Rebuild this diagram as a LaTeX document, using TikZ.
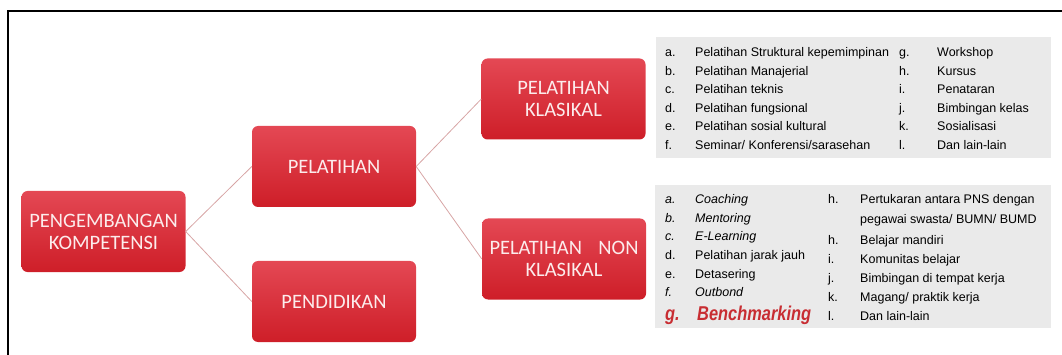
\documentclass[tikz,border=0pt]{standalone}
\usepackage{fontspec}
\setmainfont{Liberation Sans}
\newfontfamily\boxfont{Carlito}
\definecolor{redtop}{RGB}{228,72,84}
\definecolor{redbot}{RGB}{206,30,40}
\definecolor{linkc}{RGB}{215,165,165}
\definecolor{panel}{RGB}{234,234,234}
\definecolor{bench}{RGB}{200,45,50}
\definecolor{boxtext}{RGB}{252,236,236}

\begin{document}
\begin{tikzpicture}[x=1pt,y=-1pt,
  redbox/.style={rounded corners=6pt, top color=redtop, bottom color=redbot,
    minimum width=164pt, minimum height=81pt, inner sep=0pt, text=boxtext,
    font=\boxfont\fontsize{20.5}{22}\selectfont, align=center},
  link/.style={draw=linkc, line width=0.8pt},
  panelbox/.style={fill=panel, inner sep=0pt},
  lbl/.style={anchor=base west, inner sep=0pt, font=\fontsize{12.5}{14}\selectfont},
  ilbl/.style={lbl, font=\fontsize{12.5}{14}\selectfont\itshape},
]
\useasboundingbox (0,0) rectangle (1062,355);

% frame
\draw[line width=2pt, line cap=rect] (8,356) -- (8,11) -- (1063,11);

% grey panels holding the lists
\node[panelbox, minimum width=395pt, minimum height=121pt] (ptop) at (853.5,97.5) {};
\node[panelbox, minimum width=396pt, minimum height=143pt] (pbot) at (853,256.5) {};

% red boxes
\node[redbox] (pk) at (103.5,231.5) {PENGEMBANGAN\\KOMPETENSI};
\node[redbox] (pl) at (334,166.5) {PELATIHAN};
\node[redbox] (pd) at (334,301.5) {PENDIDIKAN};
\node[redbox] (kl) at (563.5,99) {PELATIHAN\\KLASIKAL};
\node[redbox] (nk) at (564,259) {\hbox to 149pt{PELATIHAN\hfil NON}\\KLASIKAL};

% connectors
\draw[link] (pk.east) -- (pl.west);
\draw[link] (pk.east) -- (pd.west);
\draw[link] (pl.east) -- (kl.west);
\draw[link] (pl.east) -- (nk.west);

% list: classical training
\node[lbl] (ka) at (665,57) {a.};  \node[lbl] (kat) at (695,57) {Pelatihan Struktural kepemimpinan};
\node[lbl] (kb) at (665,75.5) {b.};  \node[lbl] (kbt) at (695,75.5) {Pelatihan Manajerial};
\node[lbl] (kc) at (665,94) {c.};  \node[lbl] (kct) at (695,94) {Pelatihan teknis};
\node[lbl] (kd) at (665,112.5) {d.};  \node[lbl] (kdt) at (695,112.5) {Pelatihan fungsional};
\node[lbl] (ke) at (665,131) {e.};  \node[lbl] (ket) at (695,131) {Pelatihan sosial kultural};
\node[lbl] (kf) at (665,149.5) {f.};  \node[lbl] (kft) at (695,149.5) {Seminar/ Konferensi/sarasehan};
\node[lbl] (kg) at (899,57) {g.};  \node[lbl] (kgt) at (937,57) {Workshop};
\node[lbl] (kh) at (899,75.5) {h.};  \node[lbl] (kht) at (937,75.5) {Kursus};
\node[lbl] (ki) at (899,94) {i.};  \node[lbl] (kit) at (937,94) {Penataran};
\node[lbl] (kj) at (899,112.5) {j.};  \node[lbl] (kjt) at (937,112.5) {Bimbingan kelas};
\node[lbl] (kk) at (899,131) {k.};  \node[lbl] (kkt) at (937,131) {Sosialisasi};
\node[lbl] (kL) at (899,149.5) {l.};  \node[lbl] (kLt) at (937,149.5) {Dan lain-lain};

% list: non-classical training
\node[ilbl] (na) at (665,204) {a.};  \node[ilbl] (nat) at (695,204) {Coaching};
\node[ilbl] (nb) at (665,222.5) {b.};  \node[ilbl] (nbt) at (695,222.5) {Mentoring};
\node[ilbl] (nc) at (665,241) {c.};  \node[ilbl] (nct) at (695,241) {E-Learning};
\node[lbl] (nd) at (665,259.5) {d.};  \node[lbl] (ndt) at (695,259.5) {Pelatihan jarak jauh};
\node[lbl] (ne) at (665,278) {e.};  \node[lbl] (net) at (695,278) {Detasering};
\node[ilbl] (nf) at (665,296.5) {f.};  \node[ilbl] (nft) at (695,296.5) {Outbond};
\node[lbl, text=bench, font=\fontsize{20}{22}\selectfont\itshape\bfseries] (ng) at (665,320)
  {\scalebox{0.82}[1]{g.}};
\node[lbl, text=bench, font=\fontsize{20}{22}\selectfont\itshape\bfseries] (ngt) at (697,320)
  {\scalebox{0.82}[1]{Benchmarking}};
\node[lbl] (nh) at (828,204) {h.};  \node[lbl] (nht) at (860,204) {Pertukaran antara PNS dengan};
\node[lbl] (nh2) at (860,223.5) {pegawai swasta/ BUMN/ BUMD};
\node[lbl] (nh3) at (828,244) {h.};  \node[lbl] (nh3t) at (860,244) {Belajar mandiri};
\node[lbl] (ni) at (828,263) {i.};  \node[lbl] (nit) at (860,263) {Komunitas belajar};
\node[lbl] (nj) at (828,282) {j.};  \node[lbl] (njt) at (860,282) {Bimbingan di tempat kerja};
\node[lbl] (nk2) at (828,301) {k.};  \node[lbl] (nkt) at (860,301) {Magang/ praktik kerja};
\node[lbl] (nl) at (828,320) {l.};  \node[lbl] (nlt) at (860,320) {Dan lain-lain};
\end{tikzpicture}
\end{document}
